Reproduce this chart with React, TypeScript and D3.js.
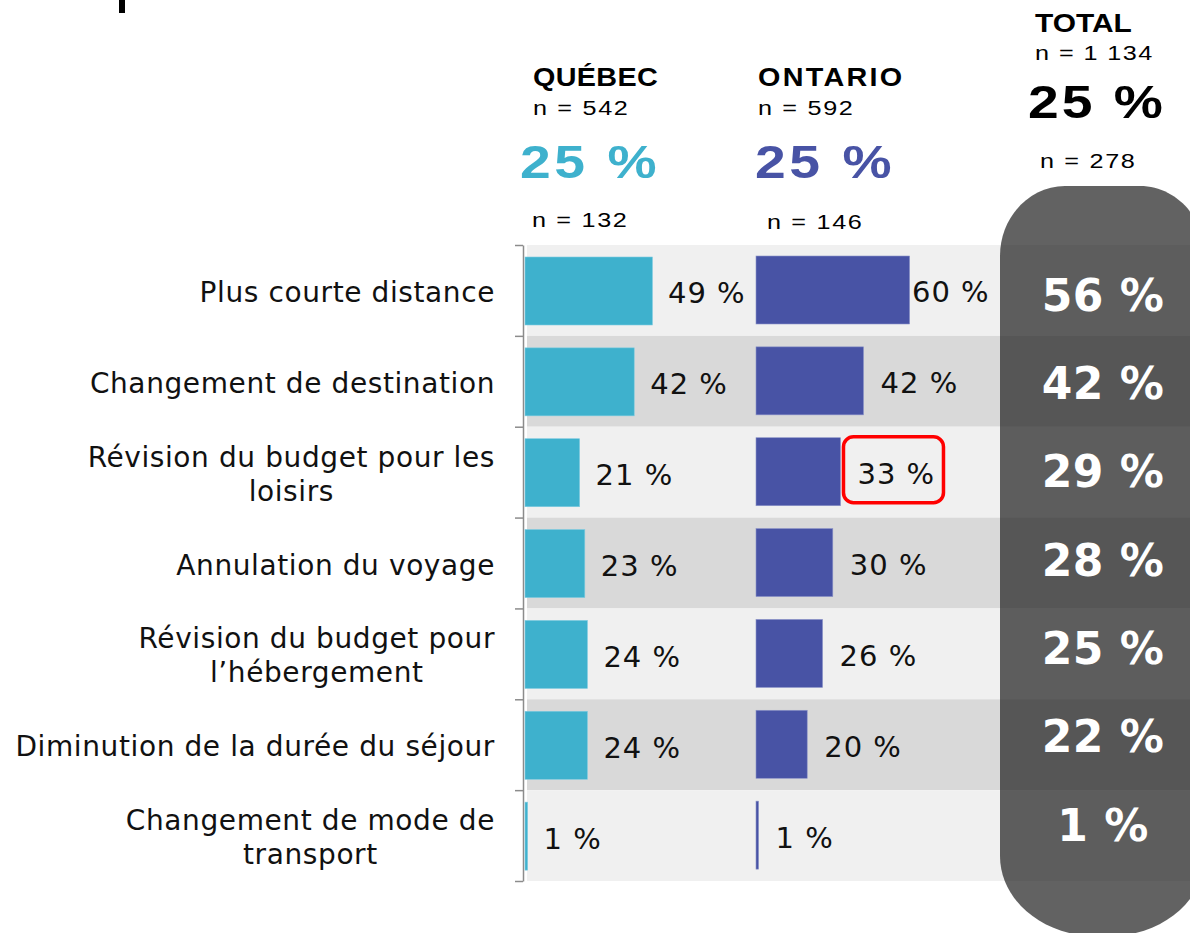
import React, { useEffect, useRef } from "react";
import * as d3 from "d3";

const categories: string[][] = [
  ["Plus courte distance"],
  ["Changement de destination"],
  ["Révision du budget pour les", "loisirs"],
  ["Annulation du voyage"],
  ["Révision du budget pour", "l’hébergement"],
  ["Diminution de la durée du séjour"],
  ["Changement de mode de", "transport"],
];
const quebec = [49, 42, 21, 23, 24, 24, 1];
const ontario = [60, 42, 33, 30, 26, 20, 1];
const total = [56, 42, 29, 28, 25, 22, 1];
const highlighted = { series: "ontario", index: 2 };

const headers = [
  { name: "QUÉBEC", n: "n = 542", pct: "25 %", nSub: "n = 132", color: "#3EB1CD" },
  { name: "ONTARIO", n: "n = 592", pct: "25 %", nSub: "n = 146", color: "#4853A5" },
];
const totalHeader = { name: "TOTAL", n: "n = 1 134", pct: "25 %", nSub: "n = 278" };

const W = 1190;
const H = 933;

export default function App() {
  const ref = useRef<SVGSVGElement | null>(null);

  useEffect(() => {
    const svg = d3.select(ref.current);
    svg.selectAll("*").remove();
    const idx = d3.range(categories.length);

    const y = d3.scaleBand<number>().domain(idx).range([245, 881]).padding(0);
    const yLin = d3.scaleLinear().domain([0, categories.length]).range([245, 881]);
    const yTot = d3.scalePoint<number>().domain(idx).range([295, 825]);
    const xQ = d3.scaleLinear().domain([0, 100]).range([525, 785]);
    const xO = d3.scaleLinear().domain([0, 100]).range([756, 1012]);

    const labelFont = "'DejaVu Sans', Verdana, sans-serif";
    const headFont = "'Liberation Sans', Arial, sans-serif";

    // fragment of cropped title
    svg.append("rect").attr("x", 119).attr("y", 0).attr("width", 6).attr("height", 13).attr("fill", "#000");

    // bands
    svg.append("g").selectAll("rect").data(idx).join("rect")
      .attr("x", 527).attr("width", W - 527)
      .attr("y", (i) => y(i)!).attr("height", y.bandwidth())
      .attr("fill", (i) => (i % 2 === 0 ? "#f0f0f0" : "#d9d9d9"));

    // pill
    const px = 1000, pw = 205, top = 186, bot = 936;
    const trx = 65, tr = 70, brx = 95, bry = 80;
    const p = d3.path();
    p.moveTo(px, top + tr);
    p.bezierCurveTo(px, top + tr * 0.45, px + trx * 0.45, top, px + trx, top);
    p.lineTo(px + pw - trx, top);
    p.bezierCurveTo(px + pw - trx * 0.45, top, px + pw, top + tr * 0.45, px + pw, top + tr);
    p.lineTo(px + pw, bot - bry);
    p.bezierCurveTo(px + pw, bot - bry * 0.45, px + pw - brx * 0.45, bot, px + pw - brx, bot);
    p.lineTo(px + brx, bot);
    p.bezierCurveTo(px + brx * 0.45, bot, px, bot - bry * 0.45, px, bot - bry);
    p.closePath();
    svg.append("path").attr("d", p.toString()).attr("fill", "#151515").attr("fill-opacity", 0.67);

    // axis
    const axis = d3.axisLeft(yLin).tickValues(d3.range(categories.length + 1)).tickSize(8).tickSizeOuter(0).tickFormat(() => "");
    const ag = svg.append("g").attr("transform", "translate(523,0)").call(axis as any);
    ag.selectAll("path,line").attr("stroke", "#8c8c8c").attr("stroke-width", 1.5);

    // bars
    svg.append("g").selectAll("rect").data(idx).join("rect")
      .attr("x", xQ(0)).attr("y", (i) => y(i)! + 12)
      .attr("width", (i) => xQ(quebec[i]) - xQ(0)).attr("height", 68)
      .attr("fill", headers[0].color).attr("stroke", "#7fcbe0").attr("stroke-width", 0.6);
    svg.append("g").selectAll("rect").data(idx).join("rect")
      .attr("x", xO(0)).attr("y", (i) => y(i)! + 11)
      .attr("width", (i) => xO(ontario[i]) - xO(0)).attr("height", 68)
      .attr("fill", headers[1].color).attr("stroke", "#8c94c8").attr("stroke-width", 0.6);

    // value labels
    const valStyle = (sel: any) => sel
      .attr("dominant-baseline", "central")
      .attr("font-family", labelFont).attr("font-size", 29).attr("letter-spacing", 1).attr("fill", "#111");
    const qLab = svg.append("g").selectAll("text").data(idx).join("text")
      .attr("x", (i) => Math.min(xQ(quebec[i]) + 16, 668))
      .attr("y", (i) => y(i)! + y.bandwidth() / 2 + 3)
      .call(valStyle)
      .text((i) => `${quebec[i]} %`);
    const oLab = svg.append("g").selectAll("text").data(idx).join("text")
      .attr("x", (i) => Math.min(xO(ontario[i]) + 17, 912))
      .attr("y", (i) => y(i)! + y.bandwidth() / 2 + 2)
      .call(valStyle)
      .text((i) => `${ontario[i]} %`);

    // highlight box
    const hlNode = (highlighted.series === "ontario" ? oLab : qLab).filter((i) => i === highlighted.index).node() as SVGTextElement | null;
    if (hlNode) {
      const bb = hlNode.getBBox();
      svg.append("rect")
        .attr("x", bb.x - 14).attr("y", y(highlighted.index)! + 10)
        .attr("width", 100).attr("height", 66)
        .attr("rx", 10).attr("fill", "none").attr("stroke", "#ff0000").attr("stroke-width", 3.5);
    }

    // total values
    svg.append("g").selectAll("text").data(idx).join("text")
      .attr("x", 1103).attr("y", (i) => yTot(i)!)
      .attr("text-anchor", "middle").attr("dominant-baseline", "central")
      .attr("font-family", labelFont).attr("font-weight", "bold").attr("font-size", 44)
      .attr("letter-spacing", 0.5).attr("fill", "#fff")
      .text((i) => `${total[i]} %`);

    // category labels (block right-aligned at 495, lines centered in block)
    const lh = 34;
    idx.forEach((i) => {
      const lines = categories[i];
      const cy = y(i)! + y.bandwidth() / 2 + 2;
      const g = svg.append("g");
      const ts = g.selectAll("text").data(lines).join("text")
        .attr("y", (_, k) => cy + (k - (lines.length - 1) / 2) * lh)
        .attr("dominant-baseline", "central")
        .attr("text-anchor", "middle")
        .attr("font-family", labelFont).attr("font-size", 28).attr("letter-spacing", 0.6).attr("fill", "#111")
        .text((d) => d);
      let maxW = 0;
      ts.each(function () { maxW = Math.max(maxW, (this as SVGTextElement).getComputedTextLength()); });
      ts.attr("x", 495 - maxW / 2);
    });

    // headers (source is horizontally stretched, so scale X)
    const hText = (g: any, x: number, yy: number, size: number, bold: boolean, ls: number, sx: number, color: string, txt: string) =>
      g.append("text")
        .attr("transform", `translate(${x},${yy}) scale(${sx},1)`)
        .attr("font-size", size).attr("font-weight", bold ? "bold" : "normal")
        .attr("letter-spacing", ls).attr("fill", color).text(txt);

    const hx = [533, 758];
    headers.forEach((h, k) => {
      const g = svg.append("g").attr("font-family", headFont);
      hText(g, hx[k], 86, 25, true, k === 0 ? 0.3 : 2, 1.15, "#000", h.name);
      hText(g, hx[k], 115, 21, false, 1.4, 1.2, "#000", h.n);
      hText(g, hx[k] - 13 + k * 10, 178, 46, true, 3, 1.2, h.color, h.pct);
      hText(g, hx[k] - 1 + k * 10, 227 + k * 2, 21, false, 1.4, 1.2, "#000", h.nSub);
    });
    const tg = svg.append("g").attr("font-family", headFont);
    hText(tg, 1035, 32, 26, true, 0, 1.15, "#000", totalHeader.name);
    hText(tg, 1035, 60, 21, false, 1.2, 1.2, "#000", totalHeader.n);
    hText(tg, 1028, 118, 46, true, 2.5, 1.2, "#000", totalHeader.pct);
    hText(tg, 1040, 168, 21, false, 1.4, 1.2, "#000", totalHeader.nSub);
  }, []);

  return (
    <svg ref={ref} width={W} height={H} style={{ position: "absolute", left: 0, top: 0, display: "block" }} />
  );
}
